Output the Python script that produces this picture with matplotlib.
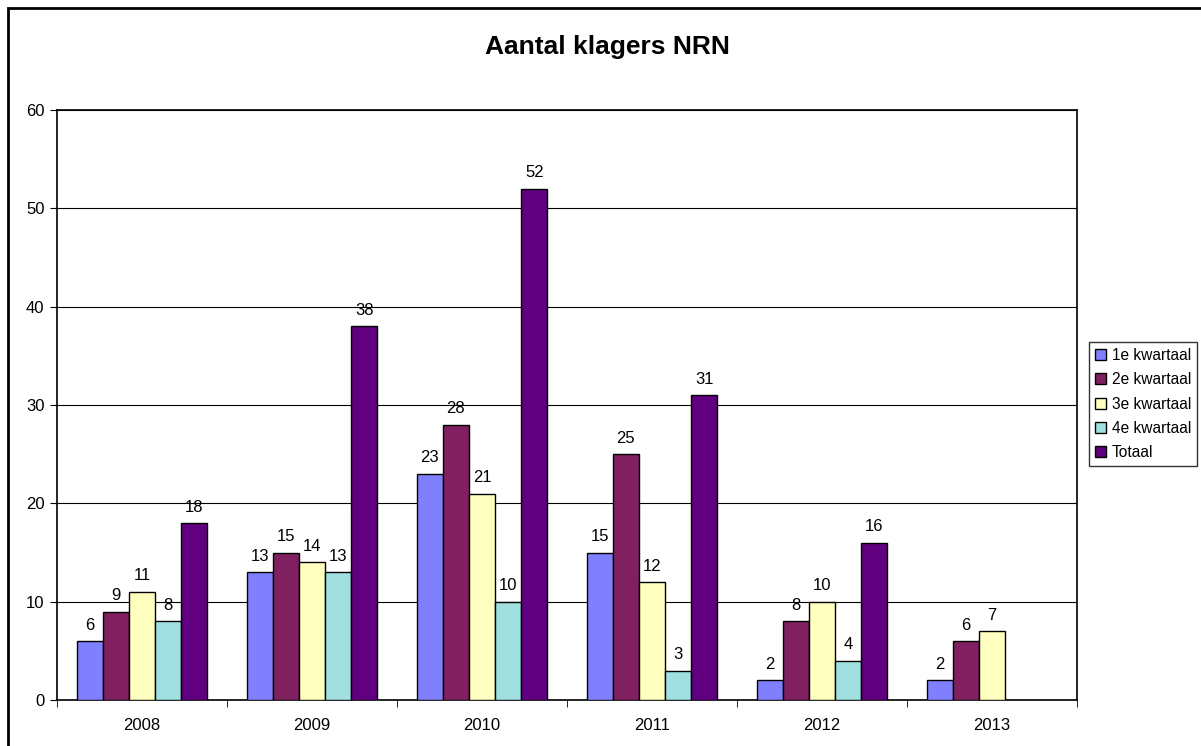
import matplotlib
matplotlib.use('Agg')
import matplotlib.pyplot as plt
import numpy as np
from matplotlib.patches import Rectangle

plt.rcParams['font.family'] = ['Liberation Sans', 'DejaVu Sans']

years = ['2008', '2009', '2010', '2011', '2012', '2013']
series = ['1e kwartaal', '2e kwartaal', '3e kwartaal', '4e kwartaal', 'Totaal']
q1 = [6, 13, 23, 15, 2, 2]
q2 = [9, 15, 28, 25, 8, 6]
q3 = [11, 14, 21, 12, 10, 7]
q4 = [8, 13, 10, 3, 4, None]
totaal = [18, 38, 52, 31, 16, None]
colors = ['#8080ff', '#802060', '#ffffc0', '#a0e0e0', '#600080']

fig = plt.figure(figsize=(12.01, 7.46), dpi=100)
ax = fig.add_axes([57 / 1201, 46 / 746, 1020 / 1201, 590 / 746])

# chart area border
fig.patches.append(Rectangle((8 / 1201, -0.1), 1.2, (746 - 8) / 746 + 0.1,
                             transform=fig.transFigure, fill=False,
                             edgecolor='black', linewidth=2))

x = np.arange(len(years))
w = 1 / 6.5
for i, (vals, col, name) in enumerate(zip([q1, q2, q3, q4, totaal], colors, series)):
    xs = [xi + (i - 2) * w for xi, v in zip(x, vals) if v is not None]
    vs = [v for v in vals if v is not None]
    bars = ax.bar(xs, vs, width=w, color=col, edgecolor='black', linewidth=1,
                  label=name, zorder=3)
    for b, v in zip(bars, vs):
        ax.annotate(str(v), (b.get_x() + b.get_width() / 2, v), xytext=(0, 6),
                    textcoords='offset points', ha='center', va='bottom',
                    fontsize=12)

ax.set_xlim(-0.5, len(years) - 0.5)
ax.set_ylim(0, 60)
ax.set_yticks(range(0, 61, 10))
ax.yaxis.grid(True, color='black', linewidth=0.8, zorder=0)
ax.set_xticks(x)
ax.set_xticklabels(years)
ax.set_xticks(np.arange(-0.5, len(years)), minor=True)
ax.tick_params(axis='x', which='major', length=0, pad=13, labelsize=12)
ax.tick_params(axis='x', which='minor', length=5, direction='out')
ax.tick_params(axis='y', length=5, direction='out', labelsize=12, pad=4)
for s in ax.spines.values():
    s.set_linewidth(1.2)

fig.text(607 / 1201, 1 - 47 / 746, 'Aantal klagers NRN', ha='center', va='center',
         fontsize=19, fontweight='bold')

leg = ax.legend(loc='center left', bbox_to_anchor=(1089 / 1201, 1 - 404 / 746),
                bbox_transform=fig.transFigure, frameon=True, fancybox=False,
                edgecolor='black', fontsize=11.2, handlelength=0.7,
                handleheight=0.7, handletextpad=0.35, borderpad=0.4,
                labelspacing=0.6, borderaxespad=0)
leg.get_frame().set_linewidth(1)

fig.savefig('out.png', dpi=100)
